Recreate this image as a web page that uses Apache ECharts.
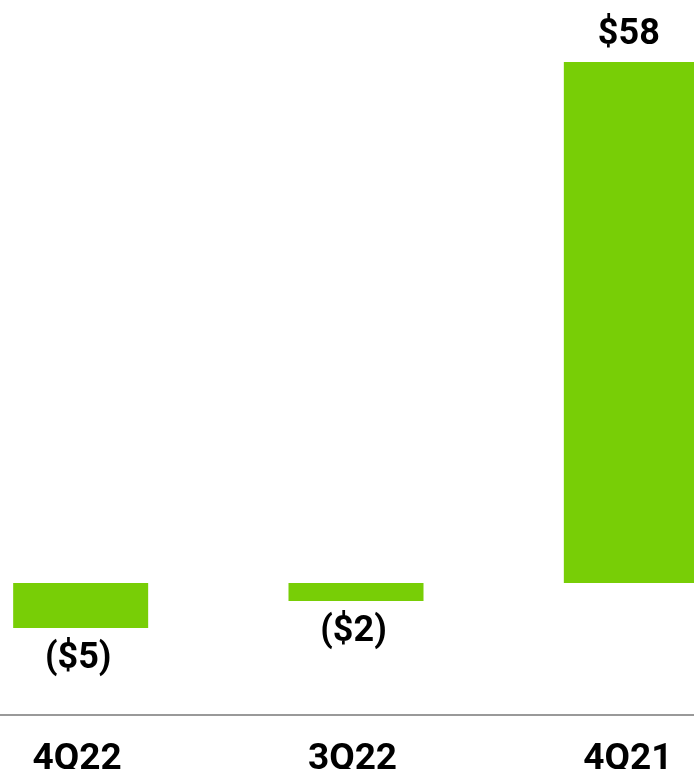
<!DOCTYPE html>
<html>
<head>
<meta charset="utf-8">
<script src="https://cdn.jsdelivr.net/npm/echarts@6/dist/echarts.min.js"></script>
<style>
  html, body { margin: 0; padding: 0; background: #fff; }
  #chart { width: 694px; height: 769px; }
</style>
</head>
<body>
<div id="chart"></div>
<script>
  // 数据
  const categories = ["4Q22", "3Q22", "4Q21"]
  const values = [-5, -2, 58]

  const green = "#78CE06"
  const font = "Roboto"

  const chart = echarts.init(document.getElementById("chart"))

  // 负值显示为 ($5)，正值显示为 $58
  const fmt = (v) => (v < 0 ? "($" + Math.abs(v) + ")" : "$" + v)

  const option = {
    animation: false,
    grid: {
      left: -57,
      width: 826,
      top: 0,
      height: 715,
      containLabel: false,
      outerBoundsMode: "none",
    },
    xAxis: {
      type: "category",
      data: categories,
      axisLine: { onZero: false, lineStyle: { color: "#999", width: 2 } },
      axisTick: { show: false },
      axisLabel: {
        color: "#000",
        fontFamily: font,
        fontWeight: "bold",
        fontSize: 37,
        margin: 26,
        padding: [0, 7, 0, 0],
      },
    },
    yAxis: {
      type: "value",
      min: -14.69,
      max: 64.9,
      show: false,
      splitLine: { show: false },
    },
    series: [
      {
        type: "bar",
        barWidth: 135,
        itemStyle: { color: green },
        data: values.map((v) => ({
          value: v,
          label: { position: v < 0 ? "bottom" : "top", distance: v < 0 ? 13 : 9 },
        })),
        label: {
          show: true,
          color: "#000",
          fontFamily: font,
          fontWeight: "bold",
          fontSize: 36,
          padding: [0, 5, 0, 0],
          formatter: (p) => fmt(p.value),
        },
      },
    ],
  }

  chart.setOption(option)
</script>
</body>
</html>
